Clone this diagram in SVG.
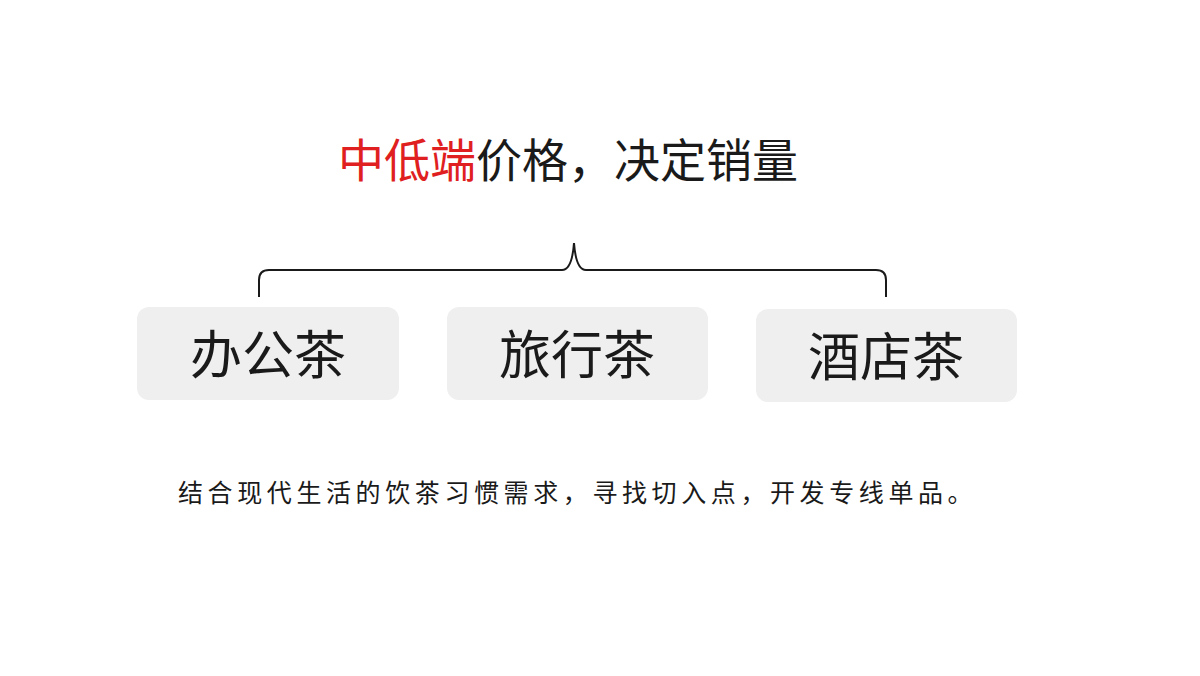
<svg xmlns="http://www.w3.org/2000/svg" width="1200" height="676" viewBox="0 0 1200 676">
<style>
text{font-family:"Noto Sans CJK SC",sans-serif;fill:#1a1a1a}
.box{fill:#efefef}
.lbl{font-size:52px;text-anchor:middle}
</style>
<rect width="1200" height="676" fill="#fff"/>
<text x="338" y="177" font-size="46"><tspan fill="#e02020">中低端</tspan>价格，决定销量</text>
<g id="connectors">
<path d="M259 297 V280 Q259 270 269 270 H562 Q572 270 574 243 Q576 270 586 270 H876 Q886 270 886 280 V297" fill="none" stroke="#1a1a1a" stroke-width="2"/>
</g>
<g id="n1"><rect class="box" x="137" y="307" width="262" height="93" rx="12"/><text class="lbl" x="268" y="374">办公茶</text></g>
<g id="n2"><rect class="box" x="447" y="307" width="261" height="93" rx="12"/><text class="lbl" x="577" y="374">旅行茶</text></g>
<g id="n3"><rect class="box" x="756" y="309" width="261" height="93" rx="12"/><text class="lbl" x="886" y="376">酒店茶</text></g>
<text x="178" y="502" font-size="25" letter-spacing="4.6">结合现代生活的饮茶习惯需求，寻找切入点，开发专线单品。</text>
</svg>
